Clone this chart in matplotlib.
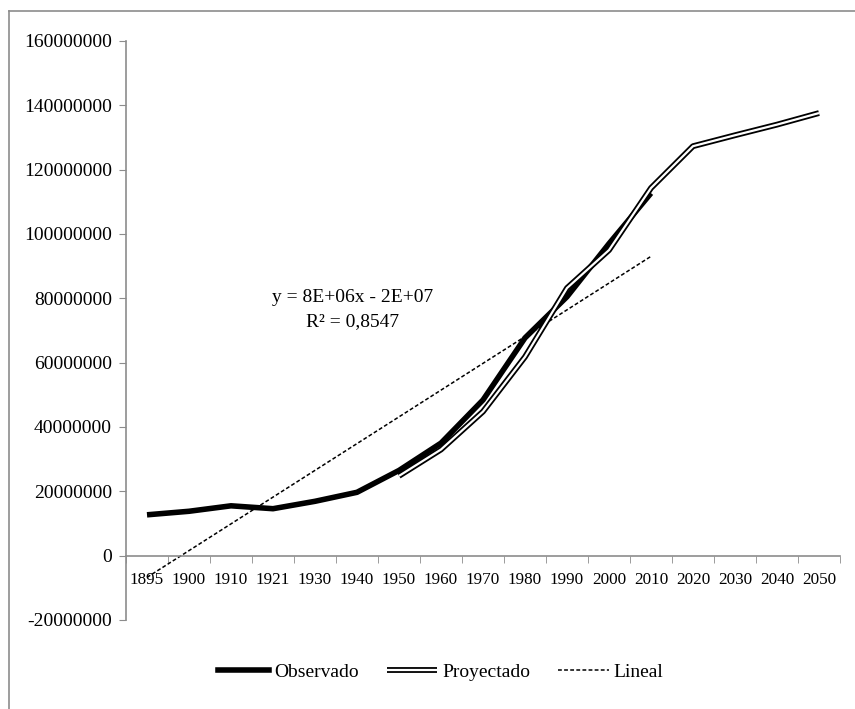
import numpy as np
import matplotlib
matplotlib.use("Agg")
from matplotlib import pyplot as plt
from matplotlib.lines import Line2D
from matplotlib.legend_handler import HandlerTuple
from matplotlib.ticker import FixedLocator

# data (millones de habitantes)
years = ["1895", "1900", "1910", "1921", "1930", "1940", "1950", "1960", "1970",
         "1980", "1990", "2000", "2010", "2020", "2030", "2040", "2050"]
observado = [12.7, 13.8, 15.5, 14.6, 16.9, 19.7, 26.5, 35.0, 48.4, 67.7, 80.5, 97.0, 112.7]
proyectado = [24.8, 33.0, 44.8, 61.8, 83.2, 95.0, 114.3, 127.3, 130.7, 134.0, 137.6]
proy_start = 6  # 1950

plt.rcParams['font.family'] = ['Liberation Serif', 'DejaVu Serif']
FS = 14

fig = plt.figure(figsize=(8.55, 7.09), dpi=100)
ax = fig.add_axes([126/855, 1-620/709, (840-126)/855, (620-41)/709])

x_obs = np.arange(len(observado))
y_obs = np.array(observado) * 1e6
x_proy = np.arange(proy_start, proy_start + len(proyectado))
y_proy = np.array(proyectado) * 1e6

# tendencia lineal (como Excel, x = 1..n)
coef = np.polyfit(x_obs + 1, y_obs, 1)
trend = np.polyval(coef, x_obs + 1)

ax.plot(x_obs, y_obs, color='black', lw=4, solid_capstyle='butt', zorder=3)
p1, = ax.plot(x_proy, y_proy, color='black', lw=4.2, solid_capstyle='butt', zorder=4)
p2, = ax.plot(x_proy, y_proy, color='white', lw=1.6, solid_capstyle='butt', zorder=5)
ax.plot(x_obs, trend, color='black', lw=1.1, ls=(0, (2.5, 1.5)), zorder=2)

ax.text(4.9, 76.5e6, "y = 8E+06x - 2E+07\nR² = 0,8547", ha='center', va='center',
        fontsize=FS, linespacing=1.5)

ax.set_xlim(-0.5, len(years) - 0.5)
ax.set_ylim(-20e6, 160e6)
yt = np.arange(-20e6, 160e6 + 1, 20e6)
ax.set_yticks(yt)
ax.set_yticklabels([f"{int(v)}" for v in yt])
ax.set_xticks(np.arange(len(years)))
ax.set_xticklabels(years)
ax.xaxis.set_minor_locator(FixedLocator(np.arange(-0.5, len(years), 1)))
ax.tick_params(axis='x', which='major', length=0, pad=12, labelsize=12.3)
ax.tick_params(axis='x', which='minor', length=5, color='#8c8c8c', direction='out')
ax.tick_params(axis='y', length=5, color='#8c8c8c', pad=5, labelsize=FS)

for s in ['top', 'right']:
    ax.spines[s].set_visible(False)
ax.spines['bottom'].set_position(('data', 0))
for s in ['bottom', 'left']:
    ax.spines[s].set_color('#8c8c8c')
    ax.spines[s].set_linewidth(1.2)

h1 = Line2D([], [], color='black', lw=4)
h3 = Line2D([], [], color='black', lw=1.1, ls=(0, (2.5, 1.5)))
fig.legend([h1, (p1, p2), h3], ["Observado", "Proyectado", "Lineal"],
           handler_map={tuple: HandlerTuple(ndivide=1)},
           loc='center', bbox_to_anchor=(441/855, 1-672/709), ncol=3, frameon=False,
           fontsize=FS, handlelength=2.6, handletextpad=0.25, columnspacing=1.45)

# borde del area del grafico
fig.add_artist(Line2D([8.5/855, 8.5/855], [0, 1-10.5/709], color='#8c8c8c', lw=1.2,
                      transform=fig.transFigure))
fig.add_artist(Line2D([8.5/855, 1], [1-10.5/709, 1-10.5/709], color='#8c8c8c', lw=1.2,
                      transform=fig.transFigure))

fig.savefig("out.png", dpi=100)
